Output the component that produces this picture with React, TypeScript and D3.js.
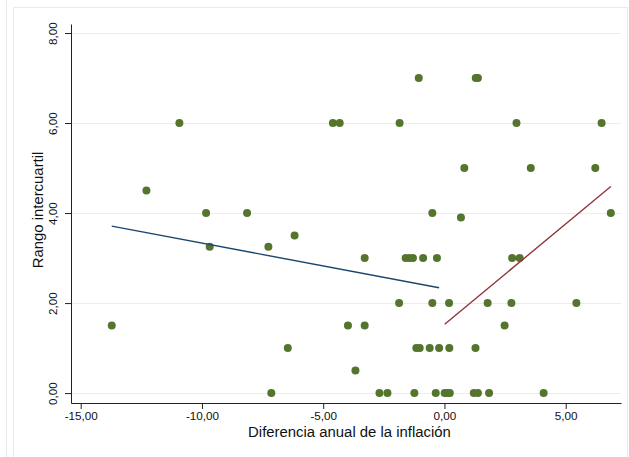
import { useEffect, useRef } from "react";
import * as d3 from "d3";

// diferencia anual de la inflación (x) vs rango intercuartil (y)
const difInflacion = [
  -13.72, -12.29, -10.93, -9.83, -9.68, -8.14, -7.26, -7.14, -6.46, -6.18,
  -4.6, -4.32, -3.98, -3.67, -3.29, -3.29, -2.68, -2.35, -1.87, -1.85,
  -1.6, -1.45, -1.3, -1.24, -1.16, -1.02, -1.06, -0.88, -0.61, -0.5,
  -0.5, -0.36, -0.31, -0.22, 0.01, 0.12, 0.22, 0.19, 0.2, 0.68,
  0.82, 1.21, 1.38, 1.28, 1.29, 1.38, 1.78, 1.84, 2.48, 2.76,
  2.79, 2.97, 3.1, 3.56, 4.09, 5.44, 6.22, 6.48, 6.86,
];
const rangoIntercuartil = [
  1.5, 4.5, 6, 4, 3.25, 4, 3.25, 0, 1, 3.5,
  6, 6, 1.5, 0.5, 3, 1.5, 0, 0, 2, 6,
  3, 3, 3, 0, 1, 1, 7, 3, 1, 4,
  2, 0, 3, 1, 0, 0, 0, 2, 1, 3.9,
  5, 0, 0, 1, 7, 7, 2, 0, 1.5, 2,
  3, 6, 3, 5, 0, 2, 5, 6, 4,
];

// ajustes lineales (extremos) para inflación negativa y positiva
const ajusteNegativo: [number, number][] = [
  [-13.72, 3.71],
  [-0.22, 2.34],
];
const ajustePositivo: [number, number][] = [
  [0.01, 1.53],
  [6.86, 4.59],
];

const xTicks = [-15, -10, -5, 0, 5];
const yTicks = [0, 2, 4, 6, 8];

const App = () => {
  const ref = useRef<SVGSVGElement | null>(null);

  useEffect(() => {
    if (!ref.current) return;
    const width = 629;
    const height = 457;
    const font = "'Liberation Sans', Arial, Helvetica, sans-serif";
    const fmt = (d: d3.NumberValue) => (+d).toFixed(2).replace(".", ",");

    const svg = d3.select(ref.current);
    svg.selectAll("*").remove();
    svg.attr("width", width).attr("height", height);

    svg.append("rect").attr("width", width).attr("height", height).attr("fill", "#fff");

    // marcos exteriores
    svg
      .append("line")
      .attr("x1", 6.5)
      .attr("x2", 6.5)
      .attr("y1", 0)
      .attr("y2", height)
      .attr("stroke", "#e4eced");
    svg
      .append("rect")
      .attr("x", 13.5)
      .attr("y", 7.5)
      .attr("width", 614)
      .attr("height", 470)
      .attr("fill", "none")
      .attr("stroke", "#e4eced");

    const x = d3.scaleLinear().domain([-15.4, 7.28]).range([71, 621]);
    const y = d3.scaleLinear().domain([-0.22, 8.2]).range([403, 24]);

    // rejilla
    svg
      .append("g")
      .selectAll("line")
      .data(yTicks)
      .join("line")
      .attr("x1", 71)
      .attr("x2", 621)
      .attr("y1", (d) => Math.round(y(d)) + 0.5)
      .attr("y2", (d) => Math.round(y(d)) + 0.5)
      .attr("stroke", "#e6eff0")
      .attr("stroke-width", 1.2);

    // puntos
    svg
      .append("g")
      .selectAll("circle")
      .data(difInflacion.map((d, i) => [d, rangoIntercuartil[i]]))
      .join("circle")
      .attr("cx", (d) => x(d[0]))
      .attr("cy", (d) => y(d[1]))
      .attr("r", 4)
      .attr("fill", "#55752f");

    const line = d3
      .line<[number, number]>()
      .x((d) => x(d[0]))
      .y((d) => y(d[1]));

    svg
      .append("path")
      .attr("d", line(ajusteNegativo))
      .attr("fill", "none")
      .attr("stroke", "#1a476f")
      .attr("stroke-width", 1.4);
    svg
      .append("path")
      .attr("d", line(ajustePositivo))
      .attr("fill", "none")
      .attr("stroke", "#90353b")
      .attr("stroke-width", 1.4);

    // ejes
    const gx = svg
      .append("g")
      .attr("transform", "translate(0,403)")
      .call(d3.axisBottom(x).tickValues(xTicks).tickFormat(fmt).tickSize(6).tickSizeOuter(0));
    gx.selectAll("text")
      .attr("font-family", font)
      .attr("font-size", 11.7)
      .attr("fill", "#111")
      .attr("y", 8.5);

    const gy = svg
      .append("g")
      .attr("transform", "translate(71,0)")
      .call(d3.axisLeft(y).tickValues(yTicks).tickFormat(fmt).tickSize(6).tickSizeOuter(0));
    gy.selectAll("text")
      .attr("font-family", font)
      .attr("font-size", 11.7)
      .attr("fill", "#111")
      .attr("transform", "rotate(-90)")
      .attr("text-anchor", "middle")
      .attr("x", 0)
      .attr("y", -14)
      .attr("dy", 0);

    [gx, gy].forEach((g) => {
      g.select(".domain").attr("stroke", "#222");
      g.selectAll(".tick line").attr("stroke", "#222");
    });

    svg
      .append("text")
      .attr("x", 349.5)
      .attr("y", 437)
      .attr("text-anchor", "middle")
      .attr("font-family", font)
      .attr("font-size", 14.9)
      .attr("fill", "#111")
      .text("Diferencia anual de la inflación");

    svg
      .append("text")
      .attr("transform", "translate(43,210) rotate(-90)")
      .attr("text-anchor", "middle")
      .attr("font-family", font)
      .attr("font-size", 14.9)
      .attr("fill", "#111")
      .text("Rango intercuartil");
  }, []);

  return <svg ref={ref} style={{ position: "absolute", left: 0, top: 0 }}></svg>;
};

export default App;
